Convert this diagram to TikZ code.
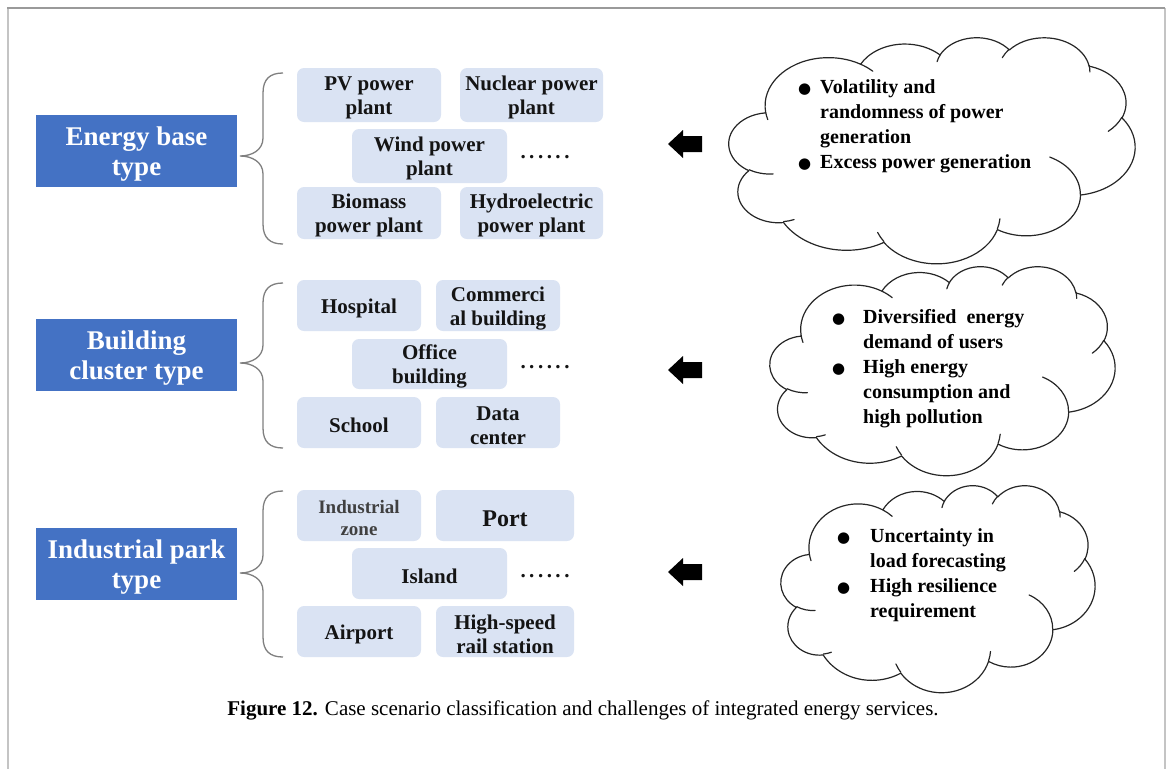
\documentclass[tikz,border=0pt]{standalone}
\usepackage{fontspec}
\setmainfont{Liberation Serif}
\newfontfamily\symfont{DejaVu Sans}
\usetikzlibrary{calc}

\definecolor{typeblue}{HTML}{4472C4}
\definecolor{itemfill}{HTML}{DAE3F3}
\definecolor{itemtext}{HTML}{141414}
\definecolor{bracegray}{HTML}{7F7F7F}
\definecolor{frametop}{HTML}{9A9A9A}
\definecolor{frameside}{HTML}{C4C4C4}

\newcommand\typefont{\fontsize{27}{30}\selectfont\bfseries}
\newcommand\itemfont{\fontsize{21}{24}\selectfont\bfseries}
\newcommand\cloudfont{\fontsize{20}{25}\selectfont\bfseries}
\newcommand\bul[1]{\makebox[#1][l]{\symfont\fontsize{15}{15}\selectfont ●}}
% taller first line, so that the text block sits a little lower in its box
\newcommand\typestrut{\rule{0pt}{25pt}}
\newcommand\itemstrut{\rule{0pt}{20pt}}

% one elliptical lobe of the cloud outline: radii, visual start angle, sweep
\newcommand\cloudarcdef[4]{%
  \pgfmathsetmacro\cldVs{#3}%
  \pgfmathsetmacro\cldVe{#3+#4}%
  \pgfmathsetmacro\cldTs{atan2(#1*sin(\cldVs),#2*cos(\cldVs))}%
  \pgfmathsetmacro\cldTe{atan2(#1*sin(\cldVe),#2*cos(\cldVe))}%
  \pgfmathparse{\cldTs+360*round((\cldVs-\cldTs)/360)}\xdef\cldS{\pgfmathresult}%
  \pgfmathparse{\cldTe+360*round((\cldVe-\cldTe)/360)}\xdef\cldE{\pgfmathresult}%
  \xdef\cldA{#1}\xdef\cldB{#2}%
}
\newcommand\cldarc[4]{\pgfextra{\cloudarcdef{#1}{#2}{#3}{#4}} arc[x radius=\cldA pt, y radius=\cldB pt, start angle=\cldS, end angle=\cldE]}

\newcommand\cloudoutline{%
  (39.00,143.70)
  \cldarc{67.53}{91.90}{-190.48748}{123.78053}
  \cldarc{53.33}{72.67}{-144.10238}{89.94523}
  \cldarc{43.65}{59.45}{-145.80792}{99.72302}
  \cldarc{48.57}{65.95}{-130.98607}{117.24173}
  \cldarc{53.33}{72.73}{-78.70888}{109.02692}
  \cldarc{67.75}{92.20}{-46.26725}{130.269}
  \cldarc{57.85}{78.67}{0.62502}{114.03333}
  \cldarc{67.52}{92.15}{22.4516}{115.17255}
  \cldarc{77.20}{105.43}{66.24263}{75.71102}
  \cldarc{43.60}{59.18}{-274.94208}{146.73557}
  \cldarc{43.45}{59.45}{-246.8285}{152.51885}
  -- cycle}
\newcommand\cloudinner{%
  (46.93,261.77) \cldarc{43.45}{59.45}{86.742}{26.4295}
  (69.28,348.99) \cldarc{43.60}{59.18}{73.61047}{11.44747}
  (164.78,390.90) \cldarc{67.52}{92.15}{137.62415}{14.0811}
  (288.27,347.51) \cldarc{67.52}{92.15}{6.45327}{15.99835}
  (341.29,229.54) \cldarc{57.85}{78.67}{-70.29235}{70.91737}
  (417.98,153.54) \cldarc{53.33}{72.73}{30.31803}{27.7515}
  (383.24,54.26) \cldarc{48.57}{65.95}{-13.74433}{14.8589}
  (290.78,39.52) \cldarc{48.57}{65.95}{-149.18145}{18.19537}
  (221.41,47.20) \cldarc{43.65}{59.45}{-163.49427}{17.68635}
  (140.00,51.92) \cldarc{67.53}{91.90}{-66.70695}{12.31935}
  (41.27,157.89) \cldarc{67.53}{91.90}{157.65435}{11.85817}}

% cloud #1 with its box at (#2,#3), width #4, height #5
\newcommand\drawcloud[5]{%
  \begin{scope}[shift={(#2,#3)}, xscale=#4/432, yscale=#5/432]
    \draw[cloudline] \cloudoutline;
    \draw[cloudline] \cloudinner;
    \coordinate (#1) at (216,216);
  \end{scope}}

% curly brace: top y, tip y, bottom y
\newcommand\typebrace[3]{%
  \draw[braceline] (283,#1) .. controls (270,#1) and (263,#1+6) .. (263,#1+20)
    -- (263,#2-18) .. controls (263,#2-6) and (252,#2) .. (240,#2)
    .. controls (252,#2) and (263,#2+6) .. (263,#2+18)
    -- (263,#3-20) .. controls (263,#3-6) and (270,#3) .. (283,#3);}

% solid block arrow pointing left, centred at height #1
\newcommand\blockarrow[1]{%
  \fill[black] (668,#1) -- (683,#1-14) -- (683,#1-8) -- (702,#1-8)
    -- (702,#1+8) -- (683,#1+8) -- (683,#1+14) -- cycle;}

\tikzset{
  typebox/.style={fill=typeblue, text=white, font=\typefont, align=center,
    inner sep=0pt, minimum width=201pt, minimum height=72pt},
  itembox/.style={fill=itemfill, rounded corners=7pt, text=itemtext,
    font=\itemfont, align=center, inner sep=0pt},
  moredots/.style={font=\itemfont, inner sep=0pt, text=itemtext},
  cloudline/.style={draw=black!85, line width=1.2pt, line join=round, line cap=round},
  braceline/.style={draw=bracegray, line width=1.3pt},
  cloudtext/.style={font=\cloudfont, align=left, inner sep=0pt, anchor=north west, text=black},
}
\newcommand\dotrow{.\kern3.5pt.\kern3.5pt.\kern3.5pt.\kern3.5pt.\kern3.5pt.}

\begin{document}
\begin{tikzpicture}[x=1pt, y=1pt, yscale=-1]
\useasboundingbox (0,0) rectangle (1169,769);

% page frame
\draw[frameside, line width=2.5pt] (8,8) -- (8,769);
\draw[frameside, line width=2pt] (1164.5,8) -- (1164.5,769);
\draw[frametop, line width=1.5pt] (7,8) -- (1165,8);

% ---------- energy base type ----------
\node[typebox] (t1) at (136.5,151) {\typestrut Energy base\\type};
\typebrace{73}{156}{244}
\node[itembox, minimum width=144pt, minimum height=54pt] (pv) at (369,95) {\itemstrut PV power\\plant};
\node[itembox, minimum width=143pt, minimum height=54pt] (nuc) at (531.5,95) {\itemstrut Nuclear power\\plant};
\node[itembox, minimum width=155pt, minimum height=54pt] (wind) at (429.5,156) {\itemstrut Wind power\\plant};
\node[moredots] (d1) at (545,157) {\dotrow};
\node[itembox, minimum width=144pt, minimum height=52pt] (bio) at (369,213) {\itemstrut Biomass\\power plant};
\node[itembox, minimum width=143pt, minimum height=52pt] (hyd) at (531.5,213) {\itemstrut Hydroelectric\\power plant};
\blockarrow{144}
\drawcloud{cl1}{729}{37}{406}{226}
\node[cloudtext] (c1) at (798,79) {\bul{22pt}Volatility and\\\hspace*{22pt}randomness of power\\\hspace*{22pt}generation\\\bul{22pt}Excess power generation};

% ---------- building cluster type ----------
\node[typebox] (t2) at (136.5,355) {\typestrut Building\\cluster type};
\typebrace{283}{363}{448}
\node[itembox, minimum width=124pt, minimum height=51pt] (hosp) at (359,305.5) {\itemstrut Hospital};
\node[itembox, minimum width=124pt, minimum height=51pt] (comm) at (498,305.5) {\itemstrut Commerci\\al building};
\node[itembox, minimum width=155pt, minimum height=50pt] (office) at (429.5,364) {\itemstrut Office\\building};
\node[moredots] (d2) at (545,367) {\dotrow};
\node[itembox, minimum width=124pt, minimum height=51pt] (school) at (359,422.5) {\itemstrut School};
\node[itembox, minimum width=124pt, minimum height=51pt] (data) at (498,422.5) {\itemstrut Data\\center};
\blockarrow{370}
\drawcloud{cl2}{770}{266}{345}{209}
\node[cloudtext] (c2) at (832,309) {\bul{31pt}Diversified\ \ energy\\\hspace*{31pt}demand of users\\\bul{31pt}High energy\\\hspace*{31pt}consumption and\\\hspace*{31pt}high pollution};

% ---------- industrial park type ----------
\node[typebox] (t3) at (136.5,564) {\typestrut Industrial park\\type};
\typebrace{491}{573}{657}
\node[itembox, minimum width=124pt, minimum height=51pt, font=\fontsize{19}{22}\selectfont\bfseries, text=black!75] (indz) at (359,515.5) {\rule{0pt}{18pt}Industrial\\zone};
\node[itembox, minimum width=138pt, minimum height=51pt, font=\fontsize{24}{26}\selectfont\bfseries] (port) at (505,515.5) {\rule{0pt}{22pt}Port};
\node[itembox, minimum width=155pt, minimum height=51pt] (island) at (429.5,573.5) {\itemstrut Island};
\node[moredots] (d3) at (545,576) {\dotrow};
\node[itembox, minimum width=124pt, minimum height=51pt] (airport) at (359,631.5) {\itemstrut Airport};
\node[itembox, minimum width=138pt, minimum height=51pt] (hsr) at (505,631.5) {\itemstrut High-speed\\rail station};
\blockarrow{572}
\drawcloud{cl3}{781}{485}{314}{207}
\node[cloudtext] (c3) at (837,528) {\bul{33pt}Uncertainty in\\\hspace*{33pt}load forecasting\\\bul{33pt}High resilience\\\hspace*{33pt}requirement};

% caption
\node[font=\fontsize{21}{24}\selectfont, inner sep=0pt] (cap) at (583,710)
  {\textbf{Figure 12.} Case scenario classification and challenges of integrated energy services.};
\end{tikzpicture}
\end{document}
